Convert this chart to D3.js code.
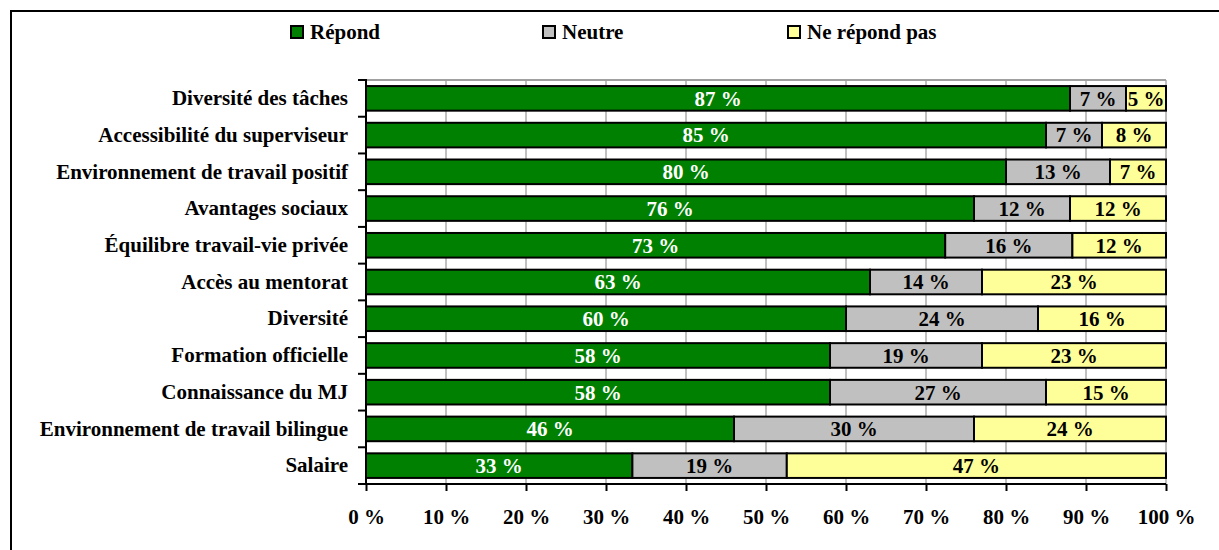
<!DOCTYPE html>
<html>
<head>
<meta charset="utf-8">
<script src="https://cdn.jsdelivr.net/npm/d3@7"></script>
<style>
  body { margin: 0; background: #fff; }
  svg { display: block; }
</style>
</head>
<body>
<svg id="Vis" width="1219" height="550"></svg>
<script>
// categories, top to bottom
var categories = ["Diversité des tâches", "Accessibilité du superviseur", "Environnement de travail positif",
  "Avantages sociaux", "Équilibre travail-vie privée", "Accès au mentorat", "Diversité",
  "Formation officielle", "Connaissance du MJ", "Environnement de travail bilingue", "Salaire"];

// segment widths
var repond    = [88, 85, 80, 76, 72.4, 63, 60, 58, 58, 46, 33.3];
var neutre    = [7, 7, 13, 12, 15.9, 14, 24, 19, 27, 30, 19.3];
var nerepond  = [5, 8, 7, 12, 11.7, 23, 16, 23, 15, 24, 47.4];

// labels printed on the segments
var repondLabels   = ["87 %", "85 %", "80 %", "76 %", "73 %", "63 %", "60 %", "58 %", "58 %", "46 %", "33 %"];
var neutreLabels   = ["7 %", "7 %", "13 %", "12 %", "16 %", "14 %", "24 %", "19 %", "27 %", "30 %", "19 %"];
var nerepondLabels = ["5 %", "8 %", "7 %", "12 %", "12 %", "23 %", "16 %", "23 %", "15 %", "24 %", "47 %"];

var seriesNames = ["Répond", "Neutre", "Ne répond pas"];
var xTicks = [0, 10, 20, 30, 40, 50, 60, 70, 80, 90, 100];

var seriesColor = ["#008000", "#c0c0c0", "#ffff99"];
var labelColor  = ["#ffffff", "#000000", "#000000"];

var fontFam = "'Liberation Serif', 'DejaVu Serif', serif";
var fontSize = 21;

var svg = d3.select("#Vis")
   .attr("font-family", fontFam)
   .attr("font-weight", "bold");

// outer frame
svg.append("rect")
   .attr("x", 11).attr("y", 11)
   .attr("width", 1240).attr("height", 560)
   .attr("fill", "none").attr("stroke", "#000").attr("stroke-width", 2);

var plotLeft = 366, plotRight = 1166, plotTop = 80, plotBottom = 484;

var x = d3.scaleLinear().domain([0, 100]).range([plotLeft, plotRight]);
var y = d3.scaleBand().domain(categories).range([plotTop, plotBottom]).paddingInner(0.33).paddingOuter(0.165);

// gridlines
svg.append("g").selectAll("line")
   .data(xTicks.slice(1))
   .enter().append("line")
   .attr("x1", function(d){ return x(d); }).attr("x2", function(d){ return x(d); })
   .attr("y1", plotTop).attr("y2", plotBottom)
   .attr("stroke", "#c0c0c0").attr("stroke-width", 2);
svg.append("line")
   .attr("x1", plotLeft).attr("x2", plotRight).attr("y1", plotTop).attr("y2", plotTop)
   .attr("stroke", "#a0a0a0").attr("stroke-width", 2);

// stacked rows
var rows = categories.map(function(c, i){
  return {cat: c, vals: [repond[i], neutre[i], nerepond[i]], labels: [repondLabels[i], neutreLabels[i], nerepondLabels[i]]};
});

var gRow = svg.append("g").selectAll("g.row")
   .data(rows)
   .enter().append("g")
   .attr("class", "row");

gRow.each(function(d){
  var g = d3.select(this);
  var start = 0;
  for (var k = 0; k < 3; k++) {
    var x0 = x(start), x1 = x(start + d.vals[k]);
    g.append("rect")
     .attr("x", x0).attr("y", y(d.cat))
     .attr("width", x1 - x0).attr("height", y.bandwidth())
     .attr("fill", seriesColor[k])
     .attr("stroke", "#000").attr("stroke-width", 2);
    g.append("text")
     .attr("x", (x0 + x1) / 2)
     .attr("y", y(d.cat) + y.bandwidth() / 2)
     .attr("dy", "0.35em")
     .attr("text-anchor", "middle")
     .attr("font-size", fontSize)
     .attr("fill", labelColor[k])
     .text(d.labels[k]);
    start += d.vals[k];
  }
});

// axes
var yAxis = svg.append("g")
   .attr("transform", "translate(" + plotLeft + ",0)")
   .call(d3.axisLeft(y).tickSize(0).tickPadding(18));
yAxis.attr("font-family", fontFam).attr("font-size", fontSize);
yAxis.select(".domain").remove();
yAxis.selectAll("text").attr("fill", "#000");

// category separator ticks on the left axis
var sepY = d3.range(categories.length + 1).map(function(i){ return plotTop + i * (plotBottom - plotTop) / categories.length; });
svg.append("g").selectAll("line")
   .data(sepY)
   .enter().append("line")
   .attr("x1", plotLeft - 8).attr("x2", plotLeft)
   .attr("y1", function(d){ return d; }).attr("y2", function(d){ return d; })
   .attr("stroke", "#000").attr("stroke-width", 2);
svg.append("line")
   .attr("x1", plotLeft).attr("x2", plotLeft).attr("y1", plotTop - 1).attr("y2", plotBottom + 1)
   .attr("stroke", "#000").attr("stroke-width", 2);

var xAxis = svg.append("g")
   .attr("transform", "translate(0," + plotBottom + ")")
   .call(d3.axisBottom(x).tickValues(xTicks).tickSize(7).tickPadding(18).tickFormat(function(d){ return d + " %"; }));
xAxis.attr("font-family", fontFam).attr("font-size", fontSize);
xAxis.select(".domain").attr("stroke-width", 2).attr("d", "M" + plotLeft + ",0H" + plotRight);
xAxis.selectAll(".tick line").attr("stroke-width", 2);
xAxis.selectAll("text").attr("fill", "#000");

// legend
var legendX = [291, 543, 788];
var legend = svg.append("g").selectAll("g.leg")
   .data(seriesNames)
   .enter().append("g")
   .attr("transform", function(d, i){ return "translate(" + legendX[i] + ",26)"; });
legend.append("rect")
   .attr("width", 12).attr("height", 12)
   .attr("fill", function(d, i){ return seriesColor[i]; })
   .attr("stroke", "#000").attr("stroke-width", 2);
legend.append("text")
   .attr("x", 19).attr("y", 6).attr("dy", "0.35em")
   .attr("font-size", fontSize)
   .text(function(d){ return d; });
</script>
</body>
</html>
